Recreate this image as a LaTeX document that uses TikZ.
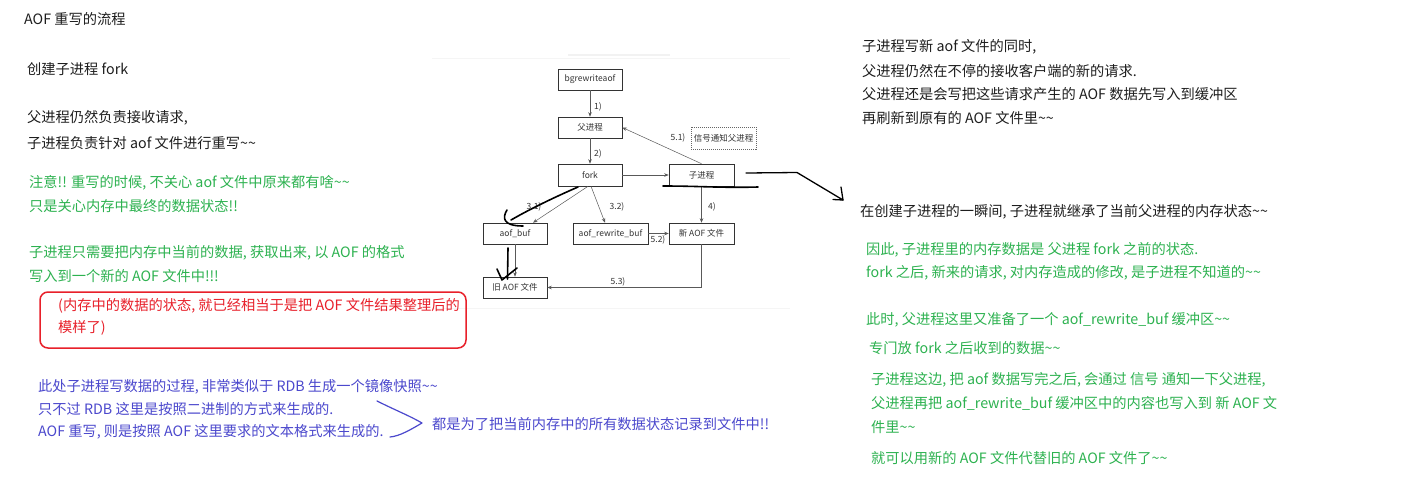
\documentclass[tikz,border=0pt]{standalone}
\usepackage{fontspec}
\setmainfont{Noto Sans CJK SC}
\usetikzlibrary{arrows.meta}
\definecolor{tgreen}{RGB}{45,178,80}
\definecolor{tred}{RGB}{232,32,42}
\definecolor{tblue}{RGB}{75,72,205}
\definecolor{tblack}{RGB}{30,30,30}
\begin{document}
\begin{tikzpicture}[x=1pt,y=-1pt,
  txt/.style={anchor=west, inner sep=0pt, font=\fontsize{14.25}{16}\selectfont, text=tblack},
  gtxt/.style={txt, text=tgreen},
  rtxt/.style={txt, text=tred},
  btxt/.style={txt, text=tblue},
  box/.style={draw=black!80, line width=0.6pt, inner sep=0pt, minimum height=21pt, minimum width=64pt, font=\fontsize{8.5}{10}\selectfont, text=black!80},
  lbl/.style={inner sep=0pt, font=\fontsize{8.5}{10}\selectfont, text=black!80},
  arr/.style={-{Stealth[length=4.5pt,width=3.5pt]}, draw=black!65, line width=0.5pt},
  hand/.style={draw=black, line width=1.6pt, line cap=round, line join=round},
]
\useasboundingbox (0,0) rectangle (1417,483);
\fill[white] (0,0) rectangle (1417,483);

% faint frame of the embedded picture
\draw[gray!10, line width=2pt] (568,55) -- (670,55);
\draw[gray!8, line width=0.8pt] (432,58) -- (790,58);
\draw[gray!8, line width=0.8pt] (432,308) -- (790,308);

% ---- diagram boxes ----
\node[box] (bg) at (590,79.5) {bgrewriteaof};
\node[box] (fu) at (590,127.5) {父进程};
\node[box, minimum height=22pt] (fork) at (590,175) {fork};
\node[box, minimum height=22pt, minimum width=65pt] (child) at (701.5,175) {子进程};
\node[box] (aofbuf) at (515,233.5) {aof\_buf};
\node[box, minimum width=75pt] (arbuf) at (610.5,233.5) {aof\_rewrite\_buf};
\node[box, minimum width=65pt] (newf) at (701.5,233.5) {新 AOF 文件};
\node[box] (oldf) at (515,287.5) {旧 AOF 文件};
\node[box, draw=black!60, dash pattern=on 1pt off 1pt, minimum width=65pt, minimum height=22pt] (sig) at (723.5,138) {信号通知父进程};

% ---- diagram arrows ----
\draw[arr] (bg) -- (fu);
\draw[arr] (fu) -- (fork);
\draw[arr] (fork) -- (child);
\draw[arr] (child.north) -- (fu.east);
\draw[arr] ([xshift=-2pt]fork.south) -- ([xshift=18pt]aofbuf.north);
\draw[arr] ([xshift=1pt]fork.south) -- ([xshift=-5.5pt]arbuf.north);
\draw[arr] (child) -- (newf);
\draw[arr] (arbuf) -- (newf);
\draw[arr] (aofbuf) -- (oldf);
\draw[arr] (newf.south) |- (oldf.east);

% ---- labels ----
\node[lbl] (l1) at (598,107) {1)};
\node[lbl] (l2) at (598,154) {2)};
\node[lbl] (l31) at (534,207) {3.1)};
\node[lbl] (l32) at (617,207) {3.2)};
\node[lbl] (l4) at (712,207) {4)};
\node[lbl] (l51) at (678,138) {5.1)};
\node[lbl] (l52) at (658,240) {5.2)};
\node[lbl] (l53) at (618,282) {5.3)};

% ---- hand-drawn strokes ----
\draw[hand] (578,187) .. controls (555,197) and (530,209) .. (511,220);
\draw[hand] (507,210) .. controls (502,218) and (503,226) .. (523,226);
\draw[hand] (508,248) -- (507.5,279);
\draw[hand] (497,269) -- (502,280) -- (517,268);
\draw[hand] (663,186) .. controls (700,186) and (720,188) .. (758,187);
\draw[hand, line width=1.3pt] (746,173) -- (797,172.5) -- (843,200);
\draw[hand, line width=1.3pt] (833,199.5) -- (843,200) -- (841,187);

% ---- left text ----
\node[txt] (t1) at (24,19) {AOF 重写的流程};
\node[txt] (t2) at (27,69) {创建子进程 fork};
\node[txt] (t3) at (27,118) {父进程仍然负责接收请求,};
\node[txt] (t4) at (27,143) {子进程负责针对 aof 文件进行重写\textasciitilde\textasciitilde};
\node[gtxt] (g1) at (29,183) {注意!! 重写的时候, 不关心 aof 文件中原来都有啥\textasciitilde\textasciitilde};
\node[gtxt] (g2) at (29,206) {只是关心内存中最终的数据状态!!};
\node[gtxt] (g3) at (29,253) {子进程只需要把内存中当前的数据, 获取出来, 以 AOF 的格式};
\node[gtxt] (g4) at (29,276) {写入到一个新的 AOF 文件中!!!};

\draw[tred, line width=1.5pt, rounded corners=8pt] (40,292) rectangle (466,348);
\node[rtxt] (r1) at (58,306) {(内存中的数据的状态, 就已经相当于是把 AOF 文件结果整理后的};
\node[rtxt] (r2) at (58,328) {模样了)};

\node[btxt] (b1) at (38,387) {此处子进程写数据的过程, 非常类似于 RDB 生成一个镜像快照\textasciitilde\textasciitilde};
\node[btxt] (b2) at (38,409) {只不过 RDB 这里是按照二进制的方式来生成的.};
\node[btxt] (b3) at (38,432) {AOF 重写, 则是按照 AOF 这里要求的文本格式来生成的.};
\draw[tblue, line width=1.2pt, line cap=round, line join=round] (377,401) .. controls (395,410) and (410,416) .. (422,423) .. controls (410,430) and (400,436) .. (390,437);
\node[btxt] (b4) at (432,424) {都是为了把当前内存中的所有数据状态记录到文件中!!};

% ---- right text ----
\node[txt] (s1) at (862,47) {子进程写新 aof 文件的同时,};
\node[txt] (s2) at (862,71) {父进程仍然在不停的接收客户端的新的请求.};
\node[txt] (s3) at (862,94) {父进程还是会写把这些请求产生的 AOF 数据先写入到缓冲区};
\node[txt] (s4) at (862,118) {再刷新到原有的 AOF 文件里\textasciitilde\textasciitilde};
\node[txt] (s5) at (860,212) {在创建子进程的一瞬间, 子进程就继承了当前父进程的内存状态\textasciitilde\textasciitilde};

\node[gtxt] (h1) at (866,250) {因此, 子进程里的内存数据是 父进程 fork 之前的状态.};
\node[gtxt] (h2) at (866,273) {fork 之后, 新来的请求, 对内存造成的修改, 是子进程不知道的\textasciitilde\textasciitilde};
\node[gtxt] (h3) at (866,320) {此时, 父进程这里又准备了一个 aof\_rewrite\_buf 缓冲区\textasciitilde\textasciitilde};
\node[gtxt] (h4) at (869,348) {专门放 fork 之后收到的数据\textasciitilde\textasciitilde};
\node[gtxt] (h5) at (871,380) {子进程这边, 把 aof 数据写完之后, 会通过 信号 通知一下父进程,};
\node[gtxt] (h6) at (871,403) {父进程再把 aof\_rewrite\_buf 缓冲区中的内容也写入到 新 AOF 文};
\node[gtxt] (h7) at (871,427) {件里\textasciitilde\textasciitilde};
\node[gtxt] (h8) at (871,458) {就可以用新的 AOF 文件代替旧的 AOF 文件了\textasciitilde\textasciitilde};
\end{tikzpicture}
\end{document}
